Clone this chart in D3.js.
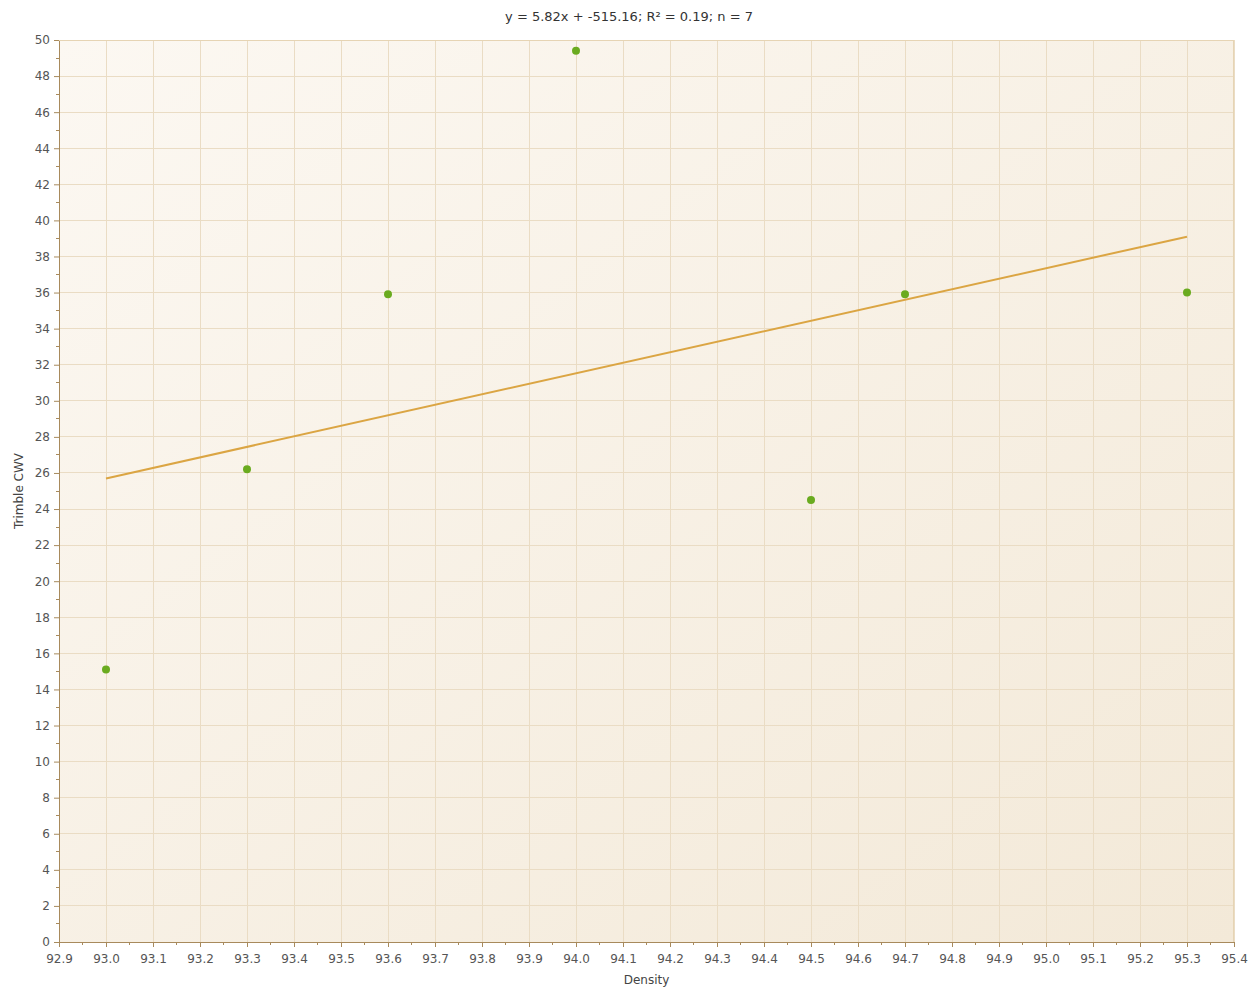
<!DOCTYPE html>
<html>
<head>
<meta charset="utf-8">
<script src="https://cdn.jsdelivr.net/npm/d3@7"></script>
<style>
  body { margin: 0; background: #fff; }
  text { font-family: "DejaVu Sans", Tahoma, sans-serif; }
</style>
</head>
<body>
<div class="plot"></div>
<script>
// data
var density = [93.0, 93.3, 93.6, 94.0, 94.5, 94.7, 95.3];
var cwv = [15.1, 26.2, 35.9, 49.4, 24.5, 35.9, 36.0];
var xTicks = d3.range(0, 26).map(function(i) { return +(92.9 + i * 0.1).toFixed(1); });
var yTicks = d3.range(0, 51, 2);
var titleText = "y = 5.82x + -515.16; R\u00b2 = 0.19; n = 7";

var W = 1257, H = 992;
var margin = {top: 40, right: 23, bottom: 50, left: 59},
    width = W - margin.left - margin.right,
    height = H - margin.top - margin.bottom;

var svg = d3.select(".plot").append("svg")
    .attr("width", W).attr("height", H);

var defs = svg.append("defs");
var grad = defs.append("linearGradient")
    .attr("id", "bg").attr("x1", "0%").attr("y1", "0%").attr("x2", "100%").attr("y2", "100%");
grad.append("stop").attr("offset", "0%").attr("stop-color", "#fcf8f2");
grad.append("stop").attr("offset", "100%").attr("stop-color", "#f3e9d8");

var x = d3.scaleLinear().domain([92.9, 95.4]).range([0, width]);
var y = d3.scaleLinear().domain([0, 50]).range([height, 0]);

var g = svg.append("g")
    .attr("transform", "translate(" + margin.left + "," + margin.top + ")");

g.append("rect").attr("width", width).attr("height", height).attr("fill", "url(#bg)");

// grid
g.append("g").selectAll("line").data(xTicks.slice(1)).enter().append("line")
    .attr("x1", function(d) { return x(d); }).attr("x2", function(d) { return x(d); })
    .attr("y1", 0).attr("y2", height)
    .style("stroke", "#eadcc4").style("stroke-width", 1).style("shape-rendering", "crispEdges");
g.append("g").selectAll("line").data(yTicks.slice(1)).enter().append("line")
    .attr("y1", function(d) { return y(d); }).attr("y2", function(d) { return y(d); })
    .attr("x1", 0).attr("x2", width)
    .style("stroke", "#eadcc4").style("stroke-width", 1).style("shape-rendering", "crispEdges");

// minor ticks
var xMinor = xTicks.slice(0, -1).map(function(d) { return d + 0.05; });
var yMinor = yTicks.slice(0, -1).map(function(d) { return d + 1; });
g.append("g").selectAll("line").data(xMinor).enter().append("line")
    .attr("x1", function(d) { return x(d); }).attr("x2", function(d) { return x(d); })
    .attr("y1", height).attr("y2", height + 3)
    .style("stroke", "#a88a5c").style("shape-rendering", "crispEdges");
g.append("g").selectAll("line").data(yMinor).enter().append("line")
    .attr("y1", function(d) { return y(d); }).attr("y2", function(d) { return y(d); })
    .attr("x1", -3).attr("x2", 0)
    .style("stroke", "#a88a5c").style("shape-rendering", "crispEdges");

// axes
var xAxis = g.append("g")
    .attr("transform", "translate(0," + height + ")")
    .call(d3.axisBottom(x).tickValues(xTicks).tickFormat(d3.format(".1f")).tickSize(5).tickPadding(7));
var yAxis = g.append("g")
    .call(d3.axisLeft(y).tickValues(yTicks).tickSize(5).tickPadding(4));
[xAxis, yAxis].forEach(function(a) {
  a.select(".domain").style("stroke", "#a88a5c");
  a.selectAll(".tick line").style("stroke", "#a88a5c");
  a.selectAll(".tick text").style("fill", "#555").style("font-size", "12px");
});

// top / right border
g.append("line").attr("x1", 0).attr("x2", width).attr("y1", 0.5).attr("y2", 0.5)
    .style("stroke", "#e6d4b4");
g.append("line").attr("x1", width - 0.5).attr("x2", width - 0.5).attr("y1", 0).attr("y2", height)
    .style("stroke", "#e6d4b4");

// least squares fit
var mx = d3.mean(density), my = d3.mean(cwv);
var sxy = d3.sum(density, function(d, i) { return (d - mx) * (cwv[i] - my); });
var sxx = d3.sum(density, function(d) { return (d - mx) * (d - mx); });
var slope = sxy / sxx, icpt = my - slope * mx;
var ext = d3.extent(density);
g.append("line")
    .attr("x1", x(ext[0])).attr("y1", y(slope * ext[0] + icpt))
    .attr("x2", x(ext[1])).attr("y2", y(slope * ext[1] + icpt))
    .style("stroke", "#dba543").style("stroke-width", 2);

// points
g.selectAll(".pt").data(density).enter().append("circle")
    .attr("class", "pt")
    .attr("cx", function(d) { return x(d); })
    .attr("cy", function(d, i) { return y(cwv[i]); })
    .attr("r", 4)
    .attr("fill", "#6aab1f");

// titles
svg.append("text").attr("x", 629).attr("y", 21)
    .attr("text-anchor", "middle").style("font-size", "13px").style("fill", "#333")
    .text(titleText);
svg.append("text").attr("x", margin.left + width / 2).attr("y", H - 8)
    .attr("text-anchor", "middle").style("font-size", "12px").style("fill", "#444")
    .text("Density");
svg.append("text")
    .attr("transform", "translate(23," + (margin.top + height / 2) + ") rotate(-90)")
    .attr("text-anchor", "middle").style("font-size", "12px").style("fill", "#444")
    .text("Trimble CWV");
</script>
</body>
</html>
